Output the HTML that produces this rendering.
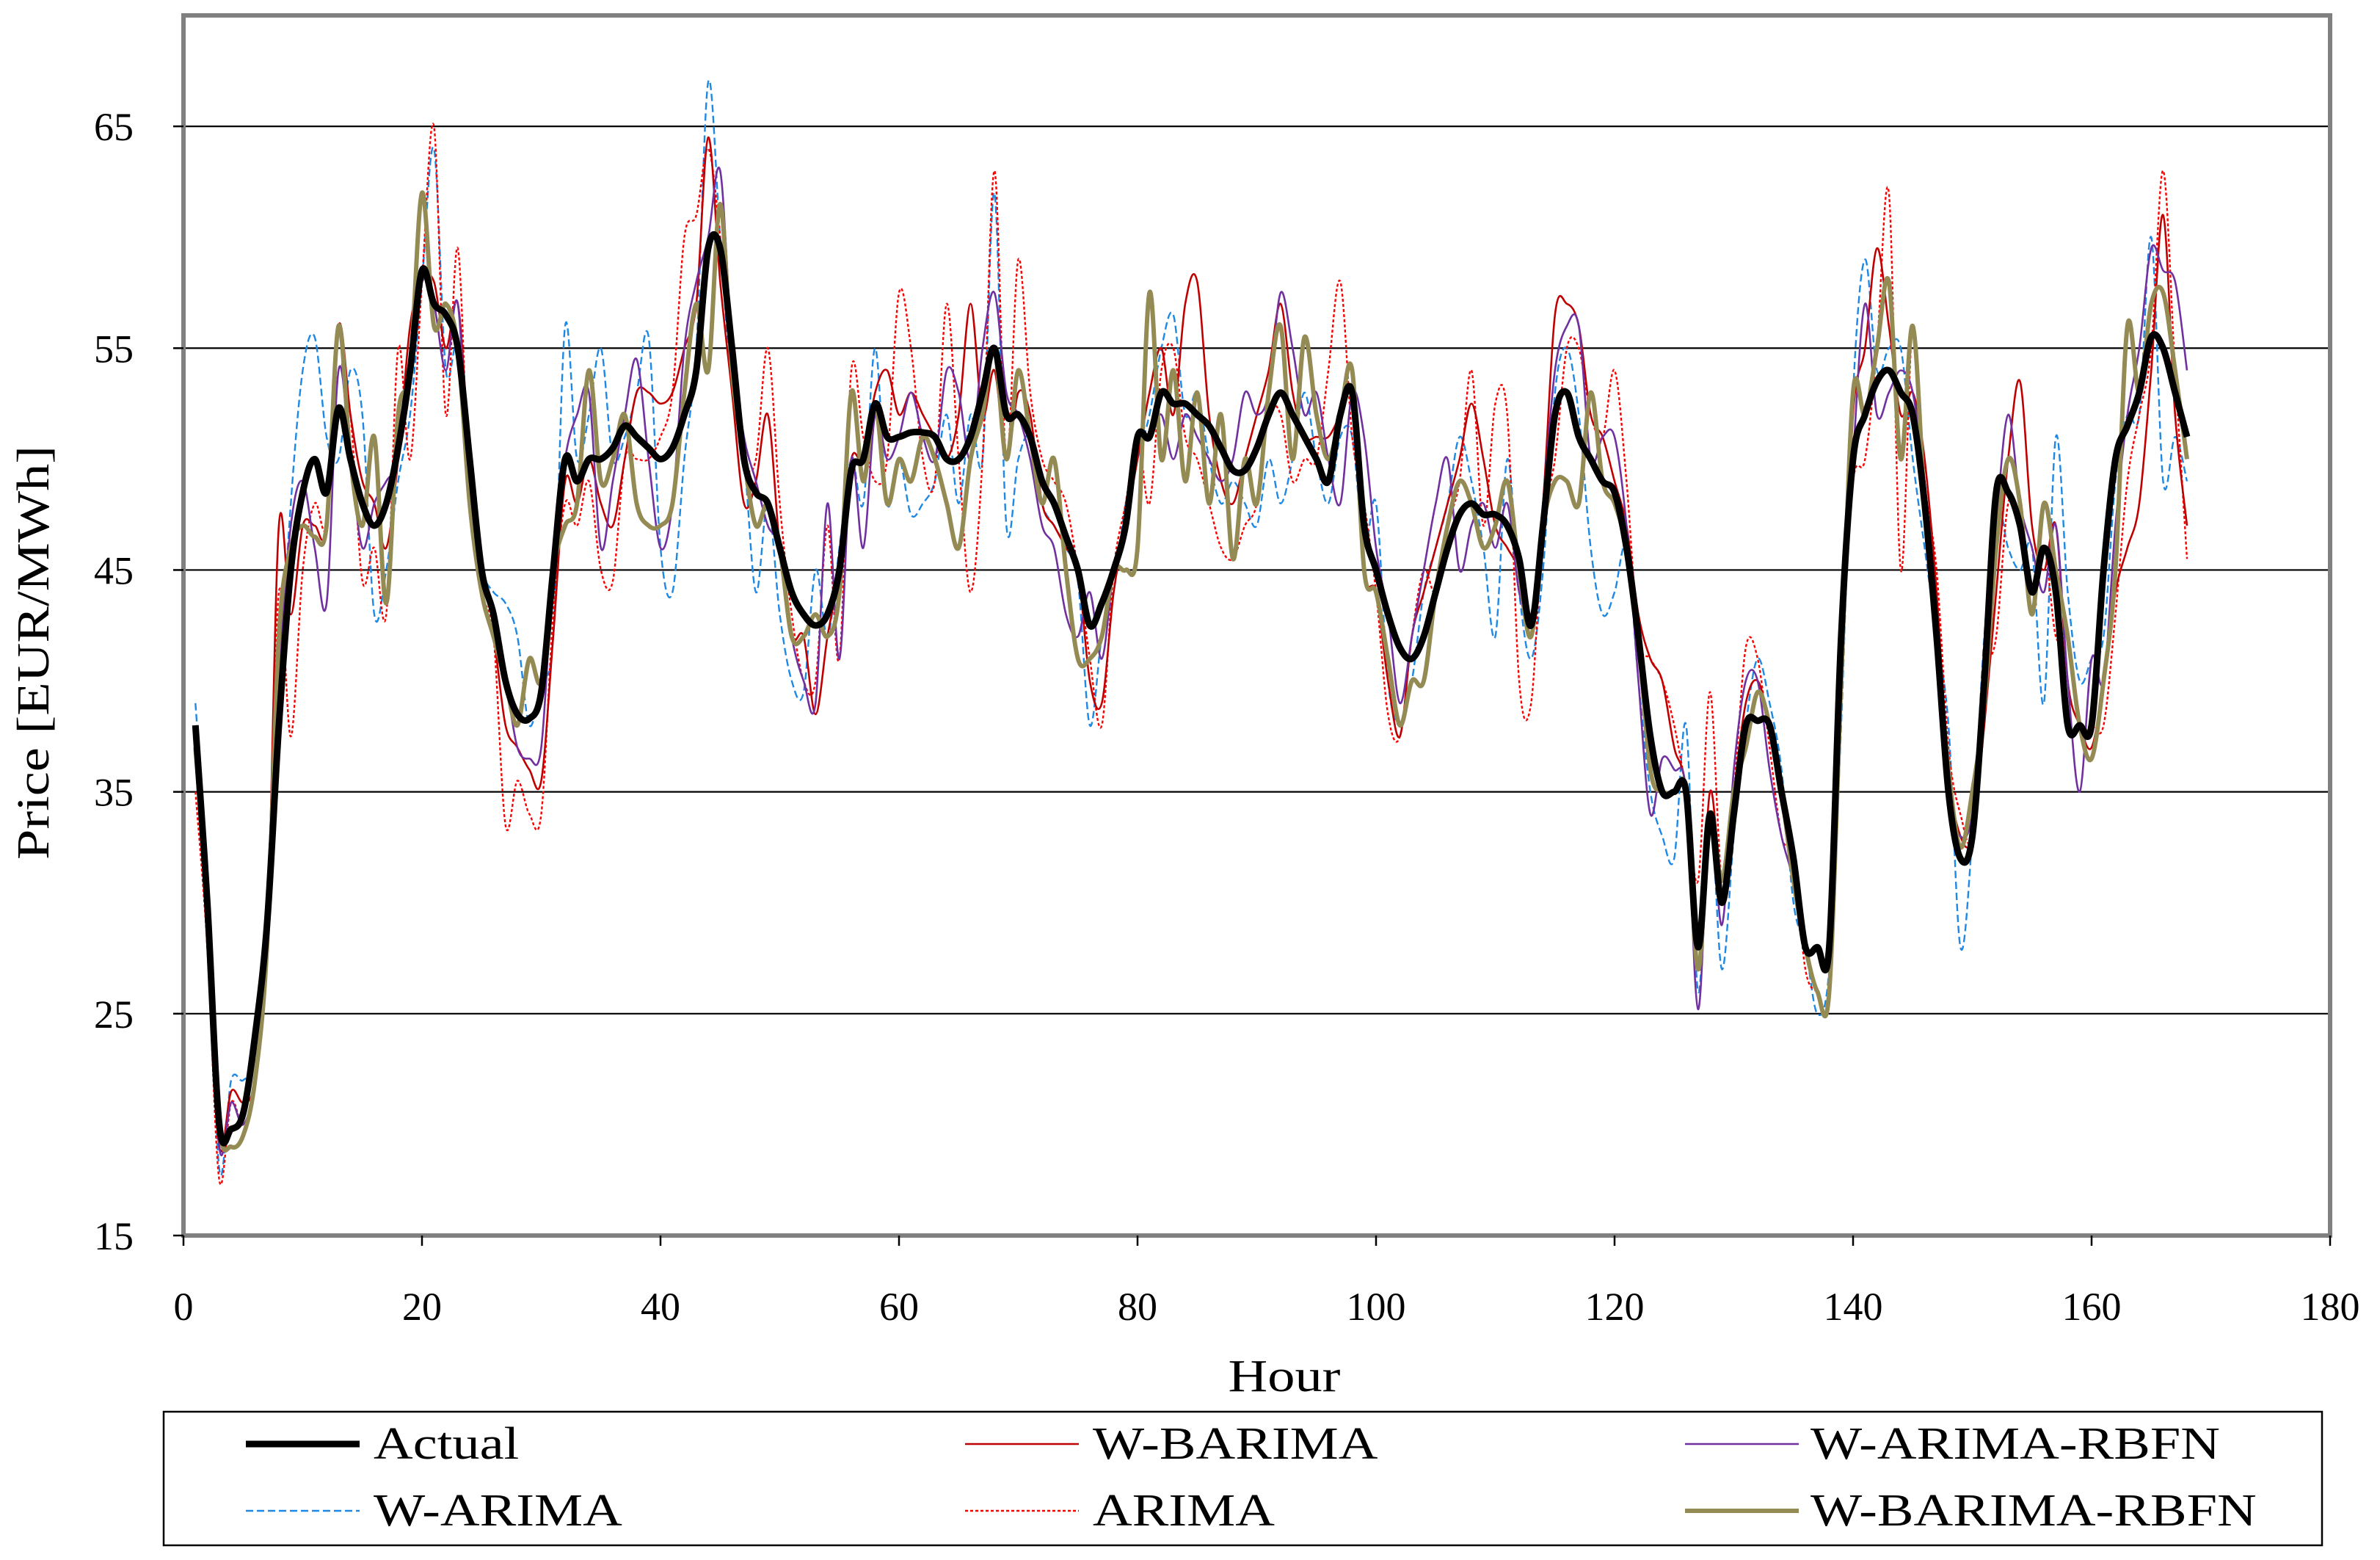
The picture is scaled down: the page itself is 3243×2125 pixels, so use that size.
<!DOCTYPE html>
<html><head><meta charset="utf-8"><style>
html,body{margin:0;padding:0;background:#fff;}
svg{display:block;font-family:"Liberation Serif",serif;}
</style></head><body>
<svg id="chart" width="3243" height="2125" viewBox="0 0 3243 2125" xmlns="http://www.w3.org/2000/svg">
<rect x="0" y="0" width="3243" height="2125" fill="#fff"/>
<g id="grid"></g>
<g id="series"></g>
<rect x="250" y="21" width="2925" height="1662" fill="none" stroke="#808080" stroke-width="6"/>
<g id="axes"></g>
<text class="wide" x="1750" y="1895" font-size="62" text-anchor="middle">Hour</text>
<text class="wide" transform="translate(66,889) rotate(-90)" font-size="62" text-anchor="middle">Price [EUR/MWh]</text>
<g>
<rect x="223" y="1923" width="2941" height="182" fill="#fff" stroke="#000" stroke-width="2.5"/>
<g id="legend"></g>
</g>
</svg>
<script>
const categories = Array.from({length:168},(_, i)=>i+1);
const xTicks = [0,20,40,60,80,100,120,140,160,180];
const yTicks = [15,25,35,45,55,65];
const seriesNames = ["Actual","W-BARIMA","W-ARIMA-RBFN","W-ARIMA","ARIMA","W-BARIMA-RBFN"];
const actual = [38,30,20,19.8,20.5,24,29,38,45,48.5,50,48.5,52.3,50,48,47,48,50.5,54,58.5,57,56.5,55,50,45,43,40,38.5,38.3,39.5,45,50,49,50,50,50.5,51.5,51,50.5,50,50.5,52,54,59.5,59.5,55,50,48.5,48,46,44,43,42.5,43,45,49.5,50,52.5,51,51,51.2,51.2,51,50,50,51,53,55,52,52,51,49,48,46.5,45,42.5,43.5,45,47,51,51,53,52.5,52.5,52,51.5,50.5,49.5,49.5,50.5,52,53,52,51,50,49,52,53,47,45,43,41.5,41,42,44,46,47.5,48,47.5,47.5,47,45.5,42.5,47,52,53,51,50,49,48.5,46,42,37.5,35,35,35,28,34,30,34,38,38.2,38,35,32,28,28,28,42,50,52,53.5,54,53,52,48,42,35,32,33,40,48.5,48.5,47,44,46,44,38,38,38,45,50,51.5,53,55.5,55,53,51];
const wBarima = [38,28,19,21.5,21,22,28,47,43,47,47,47,56,52,49,48,46,50,56,58,58,55,57,50,44,42,38,37,36,35.5,42,49,48,50,48,47,50,53,53,52.5,53,55,57,64.5,58,53,48,49,52,46,42,42,38.5,42,45,50,50,53,54,52,53,52,51,50,52,57,52,54,50,53,52,48,47,46,45,40,39,44,47,50,53,55,52,57,58,52,49,48,50,52,54,57,53,51,51,51,52,53,45,44,40,37.5,42,44,46,48,50,52.5,50,47,46,45,43,48,56.5,57,56,52,51,49,47,43,41,40,37,35,27,35,31,35,39,40,38,35,31,28,26,26,40,52,55,59.5,56,52,53,50,44,36,33,33,38,44,50,53.5,47,45,47,40,38,37,40,44,46,48,54,61,52,47];
const wArimaRbfn = [37,30,19,21,20,22,28,40,47,49,46,43.5,54,50,46,48,49,50,54,58,57,54,57,48,44,42,40,37,36.5,37,45,50,52,53,46,49,52,54.5,50,46,48,55,58,60,63,55,51,49,47,46,42,40,39,48,41,50,46,52,50,51,53,51,50,54,53,50,55,57.5,53,52,50,47,46,43,42,44,41,45,47,51,51,52,50,52,51,50,49,50,53,52,53,57.5,55,52,53,50,48,53,51,46,43,39,42,45,48,50,45,47,48,46,48,44,43,48,54,56,56,50,51,51,47,40,34,36.5,36,35,25.2,34,29,36,40,40,36,33,31,28,26,26,40,50,57,52,53,54,53,49,43,35,33,34,40,47,52,48,46,44,47,40,35,41,40,47,52,55,59.5,58.5,58,54];
const wArima = [39,31,18,22,22,23,28,39,48,54,55.5,51,50,54,52,43,45,49,52,58,64,54,55,48,45,44,43.5,42,38,40,42,56,50,52,55,50,51,53,55.5,46,44,50,55,67,60,53,50,44,48,43,40,39.5,45,42,46,50,48,55,48,50,47.5,48,49,52,48,52,50,62,47,50,51,48,47,46,44.5,38,42,44,48,50,52,55,56.5,52,53,50,48,49,48,47,50,48,50,53,50,48,51,51,46,48,40,38,40,44,46,48,51,49,46,42,50,44,41,45,53,55,52,46,43,44,46,40,35,33,32,38,26,34,27,33,38,41,39,36,30,28,25,27,38,53,59,54,55,55,50,46,42,38,28,33,42,48,46,45,46,39,51,44,40,41,42,49,52,52,60,49,51,49];
const arima = [35,28,17.5,21,20,22,29,44,37.5,45,48,47,54,52,44.5,46,43,55,50,58,65,52,59.5,48,44,42,33.5,35.5,34,34,43,48,47,49,45,44.5,50,50,50,51,53,60,61,64,60,54,50,50,55,48,43,40,40,47,41,54,51,49,50,57.5,55,50,49,57,50,44,50,63,50,59,53,50,49,48,45,41,38,45,48,51,48,54,55,51,50,48,46,45.5,47,48,52,52,49,50,50,54,58,51,48,44,38.5,37.5,42,45,44,47,49,54,47,52.5,52,40,39,47,50,55,55,52,51,54,49,42,41,40,38,35,31,39.5,31,35,41.5,41,37,33,32,27,26,26,41,49,50,55,62,45,56,49,45,37,34,33,40,42,48,47,43,46,42,42,38,38,38,43,49,52,55,63,54,45.5];
const wBarimaRbfn = [37,30,20,19,19.5,22,28,42,46,47,46.5,47,56,50,47,51,43.5,52,54,62,56,57,55,48,44,42,40,38,41,40,45,47,48,54,49,50,52,48,47,47,48,53,57,54,61.5,54,50,47,48,46,42,42,43,42,44,53,49,52.5,48,50,49,51,50,48,46,50,52,55,50,54,51,48,50,45,41,41,42,45,45,46,57.5,50,54,49,53,48,52,45.5,50,48,53,56,50,55.5,52,50,52,54,45,44,41,38,40,40,44,47,49,48,46,47,49,45,42,47,49,49,48,53,49,48,46,42,36,35,35,35,27,34,31,35,37,39.5,38,35,31,28,26,26,40,53,52,55,58,50,56,48,42,36,32.5,35,39,46,50,48,43,48,45,42,38,36.5,40,45,56,53,57,57.5,54,50];

const L=250,R=3175,T=21,B=1683,XMAX=180,YMIN=15,YMAX=70;
const xs=h=>L+h*(R-L)/XMAX;
const ys=v=>B-(v-YMIN)*(B-T)/(YMAX-YMIN);
const NS="http://www.w3.org/2000/svg";
function mk(tag,attrs,parent){const e=document.createElementNS(NS,tag);for(const k in attrs)e.setAttribute(k,attrs[k]);parent.appendChild(e);return e;}

const grid=document.getElementById('grid');
yTicks.forEach(v=>{ if(v>YMIN){
  const ln=mk('line',{x1:L,x2:R,y1:ys(v),y2:ys(v),stroke:'#000','stroke-width':2.2},grid);
  
  
}});
const axes=document.getElementById('axes');
yTicks.forEach(v=>{
  const t=mk('line',{x1:L-14,x2:L,y1:ys(v),y2:ys(v),stroke:'#000','stroke-width':2.5},axes);
  
  
  const tx=mk('text',{x:182,y:ys(v)+19,'font-size':54,'text-anchor':'end'},axes);
  tx.textContent=v;
  
  
});
xTicks.forEach(v=>{
  const t=mk('line',{x1:xs(v),x2:xs(v),y1:B,y2:B+14,stroke:'#000','stroke-width':2.5},axes);
  
  
  const tx=mk('text',{x:xs(v),y:1798,'font-size':54,'text-anchor':'middle'},axes);
  tx.textContent=v;
  
  
});

function smoothPath(vals){
  const p=vals.map((v,i)=>[xs(categories[i]),ys(v)]);
  let d='M'+p[0][0].toFixed(1)+','+p[0][1].toFixed(1);
  for(let i=0;i<p.length-1;i++){
    const p0=p[Math.max(0,i-1)],p1=p[i],p2=p[i+1],p3=p[Math.min(p.length-1,i+2)];
    const c1=[p1[0]+(p2[0]-p0[0])/6,p1[1]+(p2[1]-p0[1])/6];
    const c2=[p2[0]-(p3[0]-p1[0])/6,p2[1]-(p3[1]-p1[1])/6];
    d+='C'+c1[0].toFixed(1)+','+c1[1].toFixed(1)+' '+c2[0].toFixed(1)+','+c2[1].toFixed(1)+' '+p2[0].toFixed(1)+','+p2[1].toFixed(1);
  }
  return d;
}
const styles=[
 {data:actual,color:'#000000',w:9,dash:null,name:'series-actual'},
 {data:wBarima,color:'#c00000',w:2.6,dash:null,name:'series-w-barima'},
 {data:wArimaRbfn,color:'#7030a0',w:2.6,dash:null,name:'series-w-arima-rbfn'},
 {data:wArima,color:'#1e88e5',w:2.4,dash:'10,5',name:'series-w-arima'},
 {data:arima,color:'#ff0000',w:2.4,dash:'4,3',name:'series-arima'},
 {data:wBarimaRbfn,color:'#948a54',w:6,dash:null,name:'series-w-barima-rbfn'}
];
const order=[3,4,1,2,5,0];
const sg=document.getElementById('series');
order.forEach(i=>{
  const s=styles[i];
  const a={d:smoothPath(s.data),fill:'none',stroke:s.color,'stroke-width':s.w,'stroke-linejoin':'round'};
  if(s.dash)a['stroke-dasharray']=s.dash;
  const p=mk('path',a,sg);
  
  
});

const lg=document.getElementById('legend');
const cols=[[335,509],[1315,1489],[2296,2467]];
const rows=[1967,2058];
const legendOrder=[0,1,2,3,4,5];
legendOrder.forEach((si,k)=>{
  const s=styles[si];
  const c=cols[k%3],r=rows[Math.floor(k/3)];
  const a={x1:c[0],x2:c[0]+155,y1:r,y2:r,stroke:s.color,'stroke-width':s.w};
  if(s.dash)a['stroke-dasharray']=s.dash;
  const ln=mk('line',a,lg);
  
  
  const t=mk('text',{x:c[1],y:r+20,'font-size':62,'class':'wide'},lg);
  t.textContent=seriesNames[si];
  
  
});
document.querySelectorAll('text.wide').forEach(t=>{
  const w=t.getComputedTextLength();
  if(w>0){t.setAttribute('textLength',(w*1.2).toFixed(1));t.setAttribute('lengthAdjust','spacingAndGlyphs');}
});
</script>
</body></html>
